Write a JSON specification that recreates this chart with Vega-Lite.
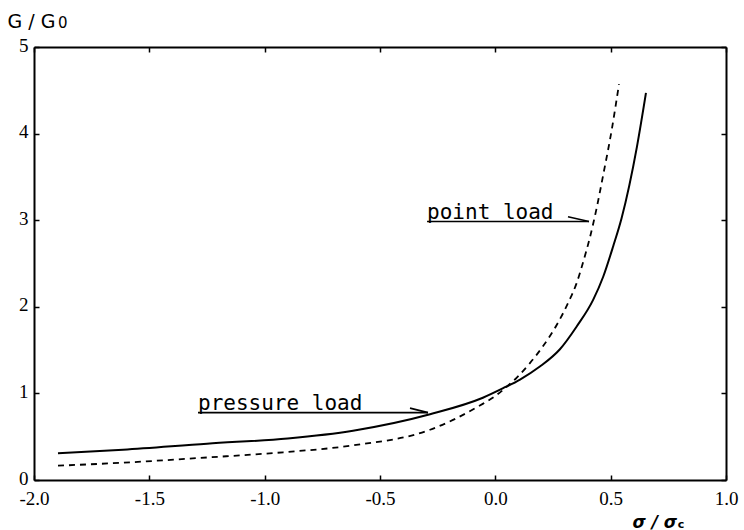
{
  "$schema": "https://vega.github.io/schema/vega-lite/v6.json",
  "width": 692,
  "height": 433,
  "autosize": "none",
  "padding": {"left": 34, "top": 47, "right": 18, "bottom": 50},
  "background": "white",
  "config": {
    "view": {"stroke": null},
    "axis": {
      "domainColor": "black",
      "domainWidth": 2,
      "tickColor": "black",
      "tickWidth": 1.5,
      "grid": false,
      "labelColor": "black",
      "titleColor": "black",
      "labelFlush": false,
      "labelOverlap": false
    }
  },
  "datasets": {
    "curves": [
      {"x": -1.896, "G": 0.31, "load": "pressure"},
      {"x": -1.614, "G": 0.35, "load": "pressure"},
      {"x": -1.25, "G": 0.42, "load": "pressure"},
      {"x": -0.9, "G": 0.48, "load": "pressure"},
      {"x": -0.617, "G": 0.57, "load": "pressure"},
      {"x": -0.283, "G": 0.76, "load": "pressure"},
      {"x": -0.054, "G": 0.95, "load": "pressure"},
      {"x": 0.034, "G": 1.06, "load": "pressure"},
      {"x": 0.107, "G": 1.16, "load": "pressure"},
      {"x": 0.193, "G": 1.31, "load": "pressure"},
      {"x": 0.28, "G": 1.51, "load": "pressure"},
      {"x": 0.352, "G": 1.77, "load": "pressure"},
      {"x": 0.424, "G": 2.08, "load": "pressure"},
      {"x": 0.468, "G": 2.35, "load": "pressure"},
      {"x": 0.511, "G": 2.7, "load": "pressure"},
      {"x": 0.547, "G": 3.02, "load": "pressure"},
      {"x": 0.614, "G": 3.85, "load": "pressure"},
      {"x": 0.653, "G": 4.47, "load": "pressure"},
      {"x": -1.896, "G": 0.165, "load": "point"},
      {"x": -1.614, "G": 0.2, "load": "point"},
      {"x": -1.25, "G": 0.26, "load": "point"},
      {"x": -0.92, "G": 0.32, "load": "point"},
      {"x": -0.617, "G": 0.4, "load": "point"},
      {"x": -0.283, "G": 0.58, "load": "point"},
      {"x": -0.067, "G": 0.86, "load": "point"},
      {"x": 0.0, "G": 0.97, "load": "point"},
      {"x": 0.042, "G": 1.06, "load": "point"},
      {"x": 0.092, "G": 1.18, "load": "point"},
      {"x": 0.15, "G": 1.35, "load": "point"},
      {"x": 0.208, "G": 1.55, "load": "point"},
      {"x": 0.266, "G": 1.79, "load": "point"},
      {"x": 0.32, "G": 2.07, "load": "point"},
      {"x": 0.352, "G": 2.27, "load": "point"},
      {"x": 0.381, "G": 2.52, "load": "point"},
      {"x": 0.41, "G": 2.8, "load": "point"},
      {"x": 0.44, "G": 3.15, "load": "point"},
      {"x": 0.466, "G": 3.5, "load": "point"},
      {"x": 0.505, "G": 4.05, "load": "point"},
      {"x": 0.536, "G": 4.57, "load": "point"}
    ],
    "notes": [
      {"x": -1.289, "G": 0.81, "label": "pressure load"},
      {"x": -0.296, "G": 3.01, "label": "point load"}
    ],
    "segs": [
      {"x": -1.289, "G": 0.778, "x2": -0.292, "G2": 0.778},
      {"x": -0.37, "G": 0.83, "x2": -0.292, "G2": 0.778},
      {"x": -0.296, "G": 2.985, "x2": 0.406, "G2": 2.985},
      {"x": 0.315, "G": 3.04, "x2": 0.406, "G2": 2.985}
    ],
    "subs": [
      {"x": 0.791, "G": -0.555, "label": "c", "size": "small"},
      {"x": -1.896, "G": 5.214, "label": "0", "size": "big"}
    ]
  },
  "layer": [
    {
      "data": {"name": "curves"},
      "transform": [{"filter": "datum.load == 'pressure'"}],
      "mark": {"type": "line", "color": "black", "strokeWidth": 2, "interpolate": "monotone"},
      "encoding": {
        "x": {
          "field": "x", "type": "quantitative",
          "scale": {"domain": [-2, 1], "nice": false, "zero": false},
          "axis": {
            "orient": "bottom",
            "values": [-2, -1.5, -1, -0.5, 0, 0.5, 1],
            "labelExpr": "datum.value < 0 ? '-' + format(-datum.value, '.1f') : format(datum.value, '.1f')",
            "labelFont": "Liberation Serif",
            "labelFontSize": 19,
            "labelFlush": false,
            "tickSize": -5,
            "labelPadding": 14,
            "title": "σ / σ",
            "titleFont": "DejaVu Sans",
            "titleFontWeight": "bold",
            "titleFontStyle": "italic",
            "titleFontSize": 17,
            "titleAlign": "left",
            "titleBaseline": "alphabetic",
            "titleX": 598,
            "titleY": 47
          }
        },
        "y": {
          "field": "G", "type": "quantitative",
          "scale": {"domain": [0, 5], "nice": false},
          "axis": {
            "orient": "left",
            "values": [0, 1, 2, 3, 4, 5],
            "format": "d",
            "labelFont": "Liberation Serif",
            "labelFontSize": 19,
            "labelFlush": false,
            "tickSize": -5,
            "labelPadding": 11,
            "labelBaseline": "middle",
            "labelOffset": -2,
            "title": "G / G",
            "titleFont": "DejaVu Sans",
            "titleFontWeight": "normal",
            "titleFontSize": 19,
            "titleAngle": 0,
            "titleAlign": "left",
            "titleBaseline": "alphabetic",
            "titleX": -27,
            "titleY": -20
          }
        }
      }
    },
    {
      "data": {"name": "curves"},
      "transform": [{"filter": "datum.load == 'point'"}],
      "mark": {"type": "line", "color": "black", "strokeWidth": 1.8, "strokeDash": [6, 5], "interpolate": "monotone"},
      "encoding": {
        "x": {
          "field": "x", "type": "quantitative",
          "scale": {"domain": [-2, 1], "nice": false, "zero": false},
          "axis": {"orient": "top", "values": [-2, -1.5, -1, -0.5, 0, 0.5, 1], "labels": false, "tickSize": -5, "title": null}
        },
        "y": {
          "field": "G", "type": "quantitative",
          "scale": {"domain": [0, 5], "nice": false},
          "axis": {"orient": "right", "values": [0, 1, 2, 3, 4, 5], "labels": false, "tickSize": -5, "title": null}
        }
      }
    },
    {
      "data": {"name": "segs"},
      "mark": {"type": "rule", "color": "black", "strokeWidth": 1.6},
      "encoding": {
        "x": {"field": "x", "type": "quantitative", "axis": null},
        "x2": {"field": "x2"},
        "y": {"field": "G", "type": "quantitative", "axis": null},
        "y2": {"field": "G2"}
      }
    },
    {
      "data": {"name": "notes"},
      "mark": {"type": "text", "align": "left", "baseline": "alphabetic", "font": "DejaVu Sans Mono", "fontSize": 21, "color": "black"},
      "encoding": {
        "x": {"field": "x", "type": "quantitative", "axis": null},
        "y": {"field": "G", "type": "quantitative", "axis": null},
        "text": {"field": "label"}
      }
    },
    {
      "data": {"name": "subs"},
      "transform": [{"filter": "datum.size == 'small'"}],
      "mark": {"type": "text", "align": "left", "baseline": "alphabetic", "font": "DejaVu Sans", "fontSize": 11, "fontWeight": "bold", "color": "black"},
      "encoding": {
        "x": {"field": "x", "type": "quantitative", "axis": null},
        "y": {"field": "G", "type": "quantitative", "axis": null},
        "text": {"field": "label"}
      }
    },
    {
      "data": {"name": "subs"},
      "transform": [{"filter": "datum.size == 'big'"}],
      "mark": {"type": "text", "align": "left", "baseline": "alphabetic", "font": "DejaVu Sans", "fontSize": 15, "color": "black"},
      "encoding": {
        "x": {"field": "x", "type": "quantitative", "axis": null},
        "y": {"field": "G", "type": "quantitative", "axis": null},
        "text": {"field": "label"}
      }
    }
  ],
  "resolve": {"axis": {"x": "independent", "y": "independent"}}
}
